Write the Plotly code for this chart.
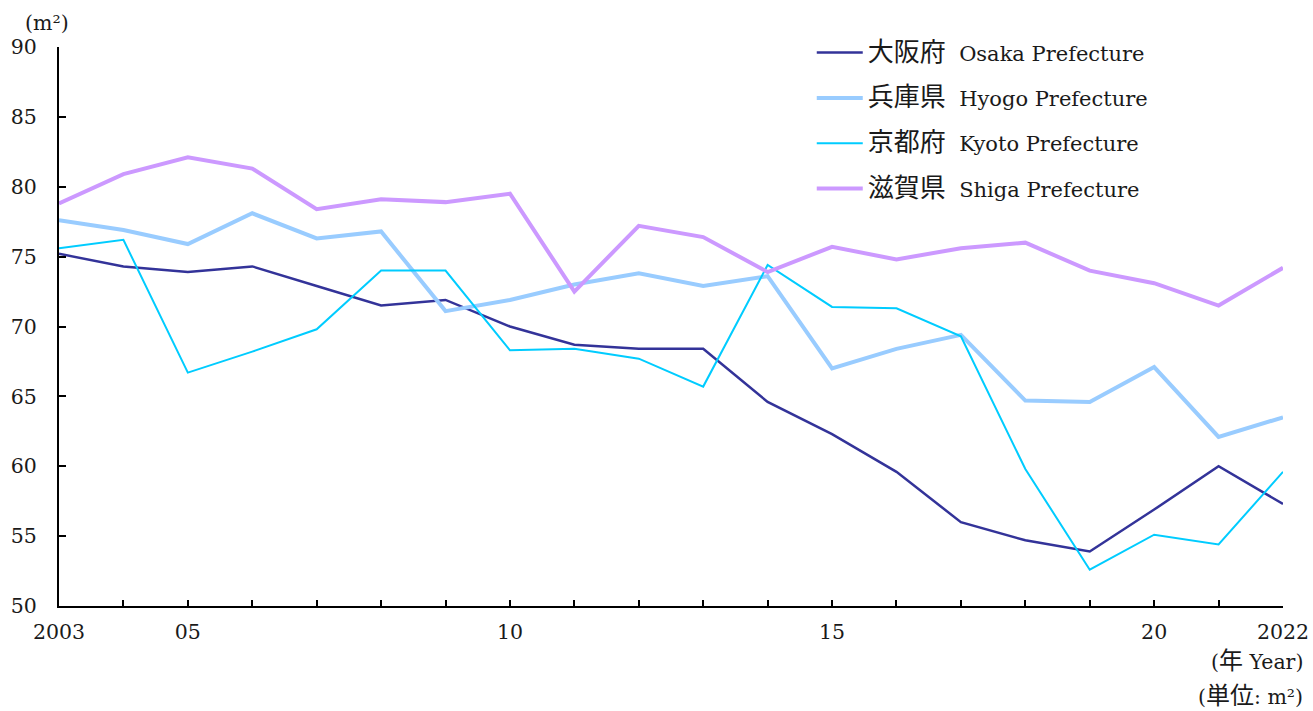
import plotly.graph_objects as go

# Average floor area of new housing by prefecture (m²)
years = list(range(2003, 2023))

osaka = [75.2, 74.3, 73.9, 74.3, 72.9, 71.5, 71.9, 70.0, 68.7, 68.4,
         68.4, 64.6, 62.3, 59.6, 56.0, 54.7, 53.9, 56.9, 60.0, 57.3]
hyogo = [77.6, 76.9, 75.9, 78.1, 76.3, 76.8, 71.1, 71.9, 73.0, 73.8,
         72.9, 73.6, 67.0, 68.4, 69.4, 64.7, 64.6, 67.1, 62.1, 63.5]
kyoto = [75.6, 76.2, 66.7, 68.2, 69.8, 74.0, 74.0, 68.3, 68.4, 67.7,
         65.7, 74.4, 71.4, 71.3, 69.3, 59.8, 52.6, 55.1, 54.4, 59.6]
shiga = [78.8, 80.9, 82.1, 81.3, 78.4, 79.1, 78.9, 79.5, 72.5, 77.2,
         76.4, 73.9, 75.7, 74.8, 75.6, 76.0, 74.0, 73.1, 71.5, 74.2]

series_jp = ["大阪府", "兵庫県", "京都府", "滋賀県"]
series_en = ["Osaka Prefecture", "Hyogo Prefecture",
             "Kyoto Prefecture", "Shiga Prefecture"]
series_values = [osaka, hyogo, kyoto, shiga]
series_colors = ["#333399", "#99CCFF", "#00CCFF", "#CC99FF"]
series_widths = [2.5, 4, 2, 4]

x_tick_labels = {2003: "2003", 2005: "05", 2010: "10", 2015: "15",
                 2020: "20", 2022: "2022"}
y_ticks = [50, 55, 60, 65, 70, 75, 80, 85, 90]

FONT = "'DejaVu Serif', 'Noto Sans CJK JP', serif"
TXT = "#1a1a1a"
FS = 20.5
LEG_FS = 21


def jp(text, size=24):
    # CJK glyphs set a little larger so they sit level with the serif Latin
    return f"<span style='font-size:{size}px'>{text}</span>"


fig = go.Figure()
for name_jp, name_en, vals, color, width in zip(
        series_jp, series_en, series_values, series_colors, series_widths):
    fig.add_trace(go.Scatter(
        x=years, y=vals, name=f"{jp(name_jp, 26)}  {name_en}", mode="lines",
        line=dict(color=color, width=width),
        legendgroup=name_en,
    ))

fig.update_layout(
    width=1313, height=711,
    margin=dict(l=59, r=30, t=47, b=105, autoexpand=False),
    paper_bgcolor="white", plot_bgcolor="white",
    font=dict(family=FONT, size=FS, color=TXT),
    showlegend=True,
    legend=dict(
        x=0.615, y=1.026, xanchor="left", yanchor="top",
        font=dict(family=FONT, size=LEG_FS, color=TXT),
        bgcolor="rgba(0,0,0,0)", tracegroupgap=15,
        itemwidth=46,
    ),
    xaxis=dict(
        range=[2003, 2022],
        tickmode="array",
        tickvals=years,
        ticktext=[x_tick_labels.get(y, "") for y in years],
        ticks="inside", ticklen=6, tickwidth=2, tickcolor="black",
        showline=True, linecolor="black", linewidth=2,
        showgrid=False, zeroline=False, automargin=False,
        ticklabelstandoff=6,
        tickfont=dict(family=FONT, size=FS, color=TXT),
    ),
    yaxis=dict(
        range=[50, 90],
        tickmode="array", tickvals=y_ticks,
        ticks="inside", ticklen=7, tickwidth=2, tickcolor="black",
        showline=True, linecolor="black", linewidth=2,
        showgrid=False, zeroline=False, automargin=False,
        ticklabelstandoff=16,
        tickfont=dict(family=FONT, size=FS, color=TXT),
    ),
)

# Axis unit labels
fig.add_annotation(text="(m²)", xref="paper", yref="paper",
                   x=0, y=1.0, xanchor="center", yanchor="bottom",
                   xshift=-12, yshift=10, showarrow=False,
                   font=dict(family=FONT, size=FS, color=TXT))
fig.add_annotation(text=f"({jp('年')} Year)", xref="paper", yref="paper",
                   x=1.0, y=0, xanchor="right", yanchor="top",
                   xshift=22, yshift=-39, showarrow=False,
                   font=dict(family=FONT, size=FS, color=TXT))
fig.add_annotation(text=f"({jp('単位')}: m²)", xref="paper", yref="paper",
                   x=1.0, y=0, xanchor="right", yanchor="top",
                   xshift=22, yshift=-74, showarrow=False,
                   font=dict(family=FONT, size=FS, color=TXT))

fig.write_html("out.html")
